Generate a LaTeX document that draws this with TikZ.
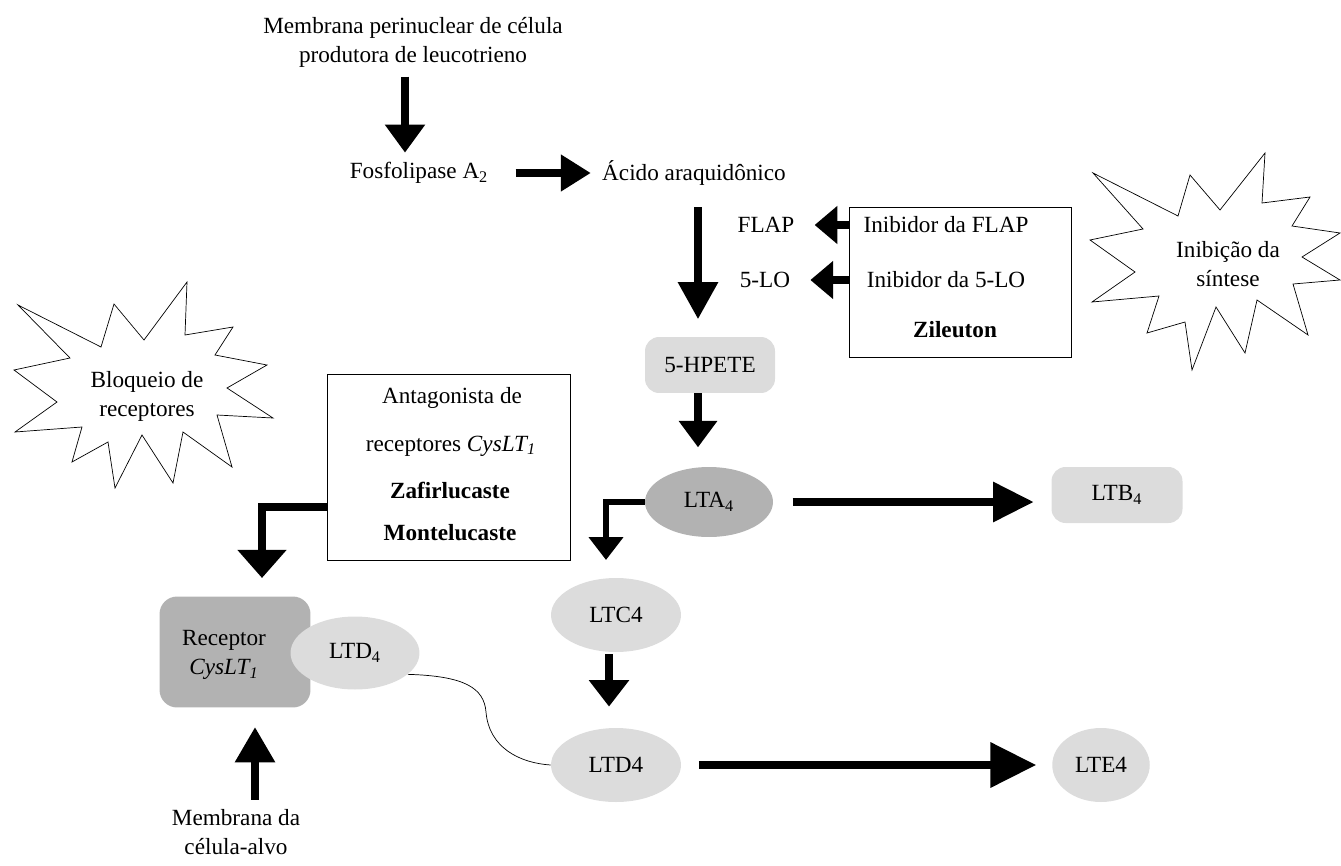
\documentclass[tikz,border=0pt]{standalone}
\usepackage{fontspec}
\setmainfont{Liberation Serif}
\usetikzlibrary{arrows.meta,positioning,shapes.geometric}

\definecolor{ltgray}{HTML}{DCDCDC}
\definecolor{dkgray}{HTML}{B2B2B2}

\begin{document}
\begin{tikzpicture}[x=0.02cm,y=-0.02cm,
    font=\fontsize{13.2}{16.5}\selectfont,
    every node/.style={align=center},
    flow/.style={line width=4pt,-{Triangle[width=22pt,length=16pt]}},
    longflow/.style={line width=4pt,-{Triangle[width=22pt,length=23pt]}},
    sideflow/.style={line width=5pt,-{Triangle[width=21pt,length=13pt]}},
    metab/.style={ellipse,fill=ltgray,minimum width=2.6cm,minimum height=1.48cm},
    key/.style={rectangle,rounded corners=5pt,fill=ltgray},
    drug/.style={draw,thin,rectangle},
    burst/.style={draw,thin,line join=miter}]

\useasboundingbox (0,0) rectangle (1341,865);

\node (memb) at (413,42) {Membrana perinuclear de célula\\produtora de leucotrieno};
\node (pla2) at (419,173) {Fosfolipase A\textsubscript{2}};
\node (aa) at (694,173) {Ácido araquidônico};

% synthesis inhibitors
\node (flap) at (766,225) {FLAP};
\node (lo) at (765,280) {5-LO};
\node [drug, minimum width=4.44cm, minimum height=3cm] (inib) at (960,282) {};
\node (iflap) at (946,225) {Inibidor da FLAP};
\node (ilo) at (946,280) {Inibidor da 5-LO};
\node (zil) at (955,330) {\textbf{Zileuton}};
\draw [burst] (1093,173) -- (1178,216) -- (1190,175) -- (1220,210) -- (1265,153)
    -- (1262,203) -- (1310,197) -- (1292,226) -- (1340,233) -- (1302,257)
    -- (1340,280) -- (1293,284) -- (1308,335) -- (1257,300) -- (1245,353)
    -- (1216,307) -- (1192,370) -- (1185,322) -- (1147,333) -- (1159,296)
    -- (1092,302) -- (1135,272) -- (1090,240) -- (1143,229) -- cycle;
\node (sint) at (1228,264) {Inibição da\\síntese};

% leukotriene cascade
\node [key, rounded corners=8pt, minimum width=2.6cm, minimum height=1.12cm] (hpete) at (710,365) {5-HPETE};
\node [metab, fill=dkgray, minimum width=2.56cm, minimum height=1.4cm] (lta) at (709,502) {LTA\textsubscript{4}};
\node [key, rounded corners=8pt, minimum width=2.62cm, minimum height=1.12cm] (ltb) at (1117,495) {LTB\textsubscript{4}};
\node [metab] (ltc) at (616,615) {LTC4};
\node [metab] (ltd) at (616,765) {LTD4};
\node [metab, minimum width=1.95cm] (lte) at (1101,765) {LTE4};

% receptor blockers
\node [drug, minimum width=4.86cm, minimum height=3.72cm] (anta) at (449,467) {};
\node (anta1) at (452,398) {Antagonista de};
\node (anta2) at (451,446) {receptores \textit{CysLT\textsubscript{1}}};
\node (zaf) at (450,490) {\textbf{Zafirlucaste}};
\node (mon) at (450,533) {\textbf{Montelucaste}};
\draw [burst] (18,305) -- (101,347) -- (114,304) -- (144,340) -- (187,282)
    -- (185,335) -- (233,327) -- (215,355) -- (267,365) -- (227,388)
    -- (273,418) -- (217,415) -- (232,467) -- (183,432) -- (173,483)
    -- (142,435) -- (115,488) -- (108,442) -- (72,462) -- (82,427)
    -- (15,432) -- (57,402) -- (14,370) -- (70,358) -- cycle;
\node (bloq) at (147,396) {Bloqueio de\\receptores};

\node [key, fill=dkgray, rounded corners=10pt, minimum width=3.02cm, minimum height=2.22cm] (rec) at (235,652) {};
\node (rectxt) at (224,655) {Receptor\\\textit{CysLT\textsubscript{1}}};
\node [metab, minimum width=2.58cm, minimum height=1.46cm] (ltdr) at (355,653) {LTD\textsubscript{4}};
\node (alvo) at (236,832) {Membrana da\\célula-alvo};

\coordinate (axis) at (698,0);
\coordinate (antatip) at (262,578);
\coordinate (ltctip) at (606,560);
\coordinate (ltcx) at (609,0);

\draw [flow, shorten <=2pt, shorten >=2pt] (memb.south -| 405,0) -- (pla2.north -| 405,0);
\draw [flow, -{Triangle[width=20pt,length=17pt]}, shorten <=12pt, shorten >=3pt] (pla2.east) -- (aa.west);
\draw [flow, -{Triangle[width=22pt,length=21pt]}, shorten <=9pt, shorten >=10pt] (aa.south -| axis) -- (hpete.north -| axis);
\draw [sideflow, shorten >=8pt] (inib.west |- flap) -- (flap.east);
\draw [sideflow, shorten >=8pt] (inib.west |- lo) -- (lo.east);
\draw [flow, -{Triangle[width=21pt,length=15pt]}, shorten >=11pt] (hpete.south -| axis) -- (lta.north -| axis);
\draw [longflow, shorten <=11pt, shorten >=10pt] (lta.east) -- (lta.east -| ltb.west);
\draw [line width=3.4pt, -{Triangle[width=19pt,length=13pt]}] (lta.west) -| (ltctip);
\draw [flow, -{Triangle[width=22pt,length=15pt]}, shorten <=1pt, shorten >=12pt] (ltc.south -| ltcx) -- (ltd.north -| ltcx);
\draw [longflow, -{Triangle[width=25pt,length=26pt]}, shorten <=10pt, shorten >=9pt] (ltd.east) -- (lte.west);
\draw [line width=4.5pt, -{Triangle[width=27pt,length=16pt]}] (anta.west |- 0,507) -| (antatip);
\draw [flow, -{Triangle[width=22pt,length=20pt]}, shorten <=2pt, shorten >=11pt] (alvo.north -| 255,0) -- (rec.south -| 255,0);
\draw [thin] (ltdr.-22) .. controls (465,676) and (484,688) .. (486,712)
    .. controls (489,748) and (520,763) .. (ltd.west);

\end{tikzpicture}
\end{document}
